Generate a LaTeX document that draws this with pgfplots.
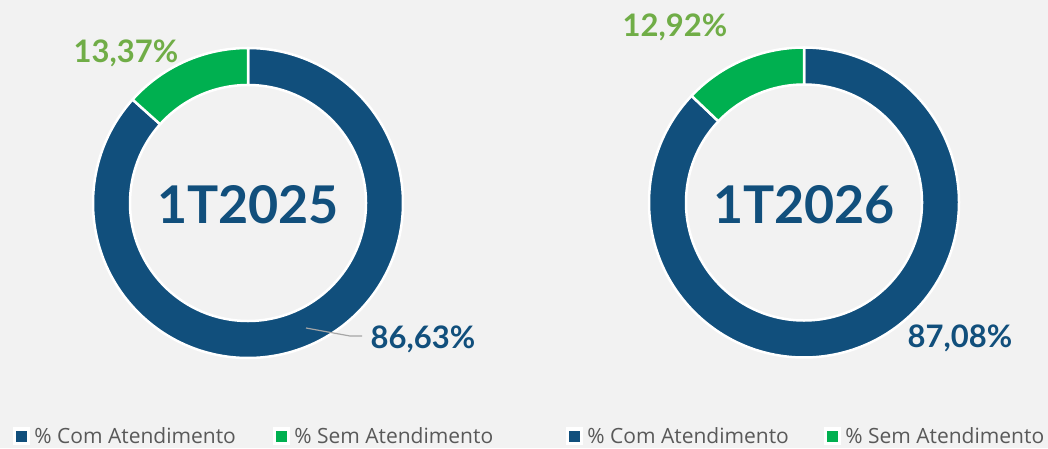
\documentclass[border=0pt]{standalone}
\usepackage{pgfplots}
\pgfplotsset{compat=1.18}
\usepackage{fontspec}
\setmainfont{Open Sans}
\newfontfamily\lato{Lato}
\definecolor{cblue}{RGB}{17,79,124}
\definecolor{cgreen}{RGB}{0,176,80}
\definecolor{lgreen}{RGB}{112,173,71}
\definecolor{bg}{RGB}{242,242,242}
\definecolor{ltext}{RGB}{89,89,89}
\definecolor{lead}{RGB}{166,166,166}

% data (percent)
\def\comA{86.63}\def\semA{13.37}
\def\comB{87.08}\def\semB{12.92}
\pgfmathsetmacro\angA{90+3.6*\semA}
\pgfmathsetmacro\angB{90+3.6*\semB}

\newcommand{\slice}[5]{%
  \fill[#5,draw=white,line width=2.5pt,line join=round]
    ([shift={(#3:155pt)}]axis cs:#1,#2) arc[start angle=#3,end angle=#4,radius=155pt]
    -- ([shift={(#4:118pt)}]axis cs:#1,#2) arc[start angle=#4,end angle=#3,radius=118pt]
    -- cycle;}

\pgfplotsset{
  donut/.style={
    x=1pt,y=1pt,xmin=0,xmax=524,ymin=0,ymax=448,
    hide axis, clip=false, scale only axis, anchor=south west,
    legend columns=2,
    legend style={draw=none,fill=none,inner sep=0pt,outer sep=0pt,
      at={(axis cs:13,3)},anchor=south west,
      font=\fontsize{21}{24}\selectfont\color{ltext},
      nodes={inner sep=0pt,outer sep=0pt},
      cells={anchor=base west},
      /tikz/every odd column/.style={column sep=5pt},
      /tikz/every even column/.style={column sep=37pt}},
  },
  blueleg/.style={legend image code/.code={
      \fill[white] (0pt,-1pt) rectangle (16pt,16pt);
      \fill[cblue] (3pt,2pt) rectangle (13pt,12pt);}},
  greenleg/.style={legend image code/.code={
      \fill[white] (0pt,-1pt) rectangle (16pt,16pt);
      \fill[cgreen] (3pt,2pt) rectangle (13pt,12pt);}},
}

\begin{document}
\begin{tikzpicture}
\useasboundingbox (0,0) rectangle (1048pt,448pt);
\fill[bg] (0,0) rectangle (1048pt,448pt);

% ---------- 1T2025 ----------
\begin{axis}[donut, at={(0pt,0pt)}]
  \addlegendimage{blueleg}\addlegendentry{\% Com Atendimento}
  \addlegendimage{greenleg}\addlegendentry{\% Sem Atendimento}
  \slice{248}{245}{\angA}{450}{cblue}
  \slice{248}{245}{90}{\angA}{cgreen}
  \node[font=\lato\bfseries\fontsize{52}{60}\selectfont,text=cblue,anchor=base]
    at (axis cs:248,225) {1T2025};
  \draw[lead,line width=1.2pt] (axis cs:306,120) -- (axis cs:350,112) -- (axis cs:362,112);
  \node[font=\lato\bfseries\fontsize{31}{36}\selectfont,text=cblue,anchor=base]
    at (axis cs:423,100) {86,63\%};
  \node[font=\lato\bfseries\fontsize{31}{36}\selectfont,text=lgreen,anchor=base]
    at (axis cs:126,385) {13,37\%};
\end{axis}

% ---------- 1T2026 ----------
\begin{axis}[donut, at={(524pt,0pt)},
    legend style={at={(axis cs:42,3)},
      /tikz/every even column/.style={column sep=35pt}}]
  \addlegendimage{blueleg}\addlegendentry{\% Com Atendimento}
  \addlegendimage{greenleg}\addlegendentry{\% Sem Atendimento}
  \slice{280}{245.5}{\angB}{450}{cblue}
  \slice{280}{245.5}{90}{\angB}{cgreen}
  \node[font=\lato\bfseries\fontsize{52}{60}\selectfont,text=cblue,anchor=base]
    at (axis cs:280,225) {1T2026};
  \node[font=\lato\bfseries\fontsize{31}{36}\selectfont,text=cblue,anchor=base]
    at (axis cs:436,101) {87,08\%};
  \node[font=\lato\bfseries\fontsize{31}{36}\selectfont,text=lgreen,anchor=base]
    at (axis cs:151,411) {12,92\%};
\end{axis}
\end{tikzpicture}
\end{document}
